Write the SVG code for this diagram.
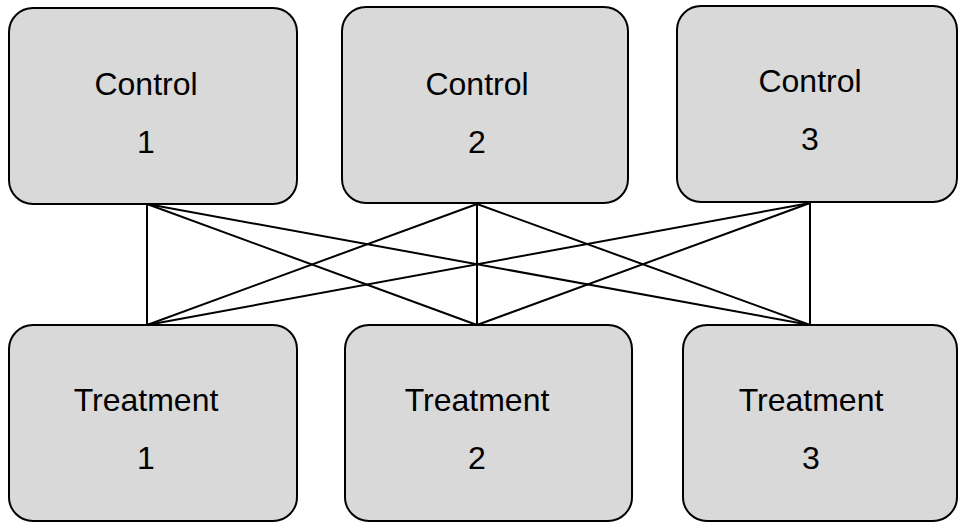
<svg xmlns="http://www.w3.org/2000/svg" width="958" height="522" viewBox="0 0 958 522">
<style>
.box{fill:#d9d9d9;stroke:#000;stroke-width:2}
.lbl{font-family:"Liberation Sans",Arial,sans-serif;font-size:32px;fill:#000;text-anchor:middle}
.conn line{stroke:#000;stroke-width:2}
</style>
<rect width="958" height="522" fill="#fff"/>
<g id="connectors" class="conn">
<line x1="147" y1="204" x2="147" y2="325"/>
<line x1="147" y1="204" x2="477" y2="325"/>
<line x1="147" y1="204" x2="810" y2="325"/>
<line x1="477" y1="204" x2="147" y2="325"/>
<line x1="477" y1="204" x2="477" y2="325"/>
<line x1="477" y1="204" x2="810" y2="325"/>
<line x1="810" y1="203" x2="147" y2="325"/>
<line x1="810" y1="203" x2="477" y2="325"/>
<line x1="810" y1="203" x2="810" y2="325"/>
</g>
<g id="control1">
<rect class="box" x="9" y="8" width="288" height="196" rx="24" ry="24"/>
<text class="lbl" x="146" y="95">Control</text>
<text class="lbl" x="146" y="153">1</text>
</g>
<g id="control2">
<rect class="box" x="342" y="7" width="286" height="196" rx="24" ry="24"/>
<text class="lbl" x="477" y="95">Control</text>
<text class="lbl" x="477" y="153">2</text>
</g>
<g id="control3">
<rect class="box" x="677" y="6" width="280" height="196" rx="24" ry="24"/>
<text class="lbl" x="810" y="92">Control</text>
<text class="lbl" x="810" y="150">3</text>
</g>
<g id="treatment1">
<rect class="box" x="9" y="325" width="288" height="196" rx="24" ry="24"/>
<text class="lbl" x="146" y="411">Treatment</text>
<text class="lbl" x="146" y="469">1</text>
</g>
<g id="treatment2">
<rect class="box" x="345" y="325" width="287" height="196" rx="24" ry="24"/>
<text class="lbl" x="477" y="411">Treatment</text>
<text class="lbl" x="477" y="469">2</text>
</g>
<g id="treatment3">
<rect class="box" x="683" y="325" width="274" height="196" rx="24" ry="24"/>
<text class="lbl" x="811" y="411">Treatment</text>
<text class="lbl" x="811" y="469">3</text>
</g>
</svg>
